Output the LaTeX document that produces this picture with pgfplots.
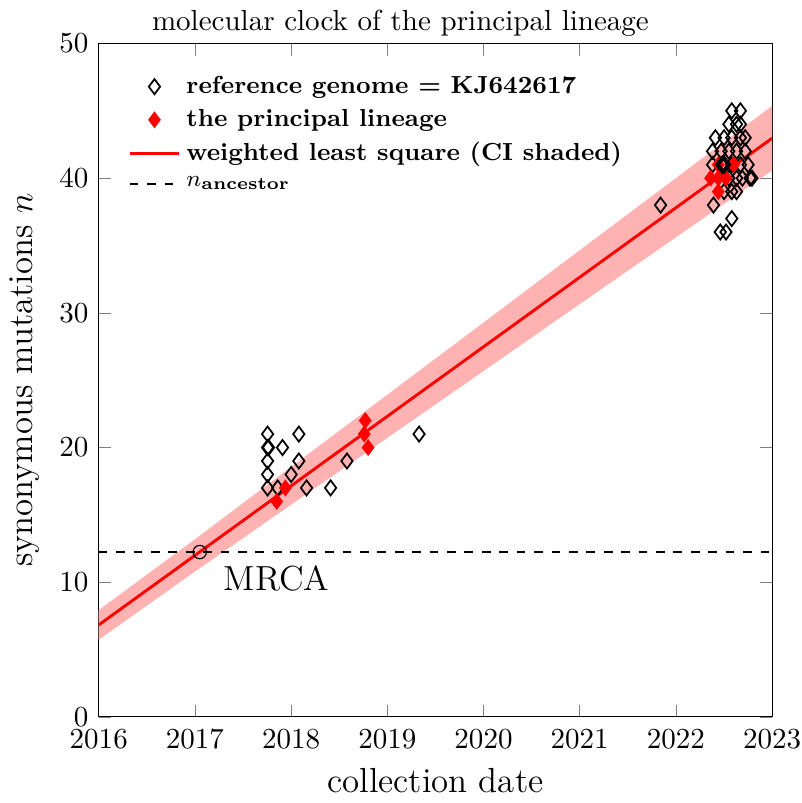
\documentclass[border=0pt]{standalone}
\usepackage{amsmath}
\usepackage{pgfplots}
\pgfplotsset{compat=1.18}
\begin{document}
\begin{tikzpicture}
\begin{axis}[
  width=232pt, height=232pt, scale only axis,
  xmin=2016, xmax=2023, ymin=0, ymax=50,
  xtick={2016,2017,...,2023},
  ytick={0,10,...,50},
  x tick label style={/pgf/number format/1000 sep={}, inner xsep=0pt, inner ysep=0pt, yshift=-4.4pt},
  y tick label style={inner ysep=0pt},
  tick style={gray},
  title={molecular clock of the principal lineage},
  title style={at={(0.448,1)}, yshift=-7pt},
  xlabel={collection date},
  xlabel style={font=\large, yshift=-3.3pt},
  ylabel={synonymous mutations $n$},
  ylabel style={font=\large},
  legend style={draw=none, fill=none, at={(0.03,0.97)}, anchor=north west, font=\fontsize{8.5}{10}\selectfont\bfseries},
  legend cell align=left,
]
% CI band
\addplot[draw=none, fill=red!30, forget plot] coordinates {
(2016,7.93) (2017,13.19) (2018,18.56) (2019,23.92) (2020,29.28) (2021,34.65) (2022,40.01) (2023,45.37)
(2023,40.57) (2022,35.61) (2021,30.65) (2020,25.68) (2019,20.72) (2018,15.76) (2017,10.79) (2016,5.73)
} -- cycle;
% reference genome
\addplot[only marks, mark=diamond, mark size=2.6pt, black, line width=0.6pt] coordinates {
(2017.755,17) (2017.755,18) (2017.755,19) (2017.755,20) (2017.755,21) (2017.765,20)
(2017.86,17) (2017.91,20) (2018.00,18) (2018.08,19) (2018.08,21) (2018.16,17)
(2018.41,17) (2018.58,19) (2019.33,21) (2021.84,38)
(2022.58,45) (2022.67,45)
(2022.55,44) (2022.63,44) (2022.67,44)
(2022.41,43) (2022.50,43) (2022.58,43) (2022.67,43) (2022.72,43)
(2022.38,42) (2022.47,42) (2022.55,42) (2022.63,42) (2022.72,42)
(2022.38,41) (2022.50,41) (2022.58,41) (2022.67,41) (2022.75,41)
(2022.55,40) (2022.63,40) (2022.69,40) (2022.77,40) (2022.79,40)
(2022.50,39) (2022.58,39) (2022.63,39)
(2022.39,38) (2022.58,37) (2022.46,36) (2022.52,36)
};
\addlegendentry{reference genome = KJ642617}
% principal lineage
\addplot[only marks, mark=diamond*, mark size=2.6pt, red, fill=red] coordinates {
(2017.85,16) (2017.94,17) (2018.77,22) (2018.76,21) (2018.80,20)
(2022.36,40) (2022.44,41) (2022.44,39) (2022.52,40) (2022.44,40) (2022.60,41)
};
\addlegendentry{the principal lineage}
\addplot[only marks, mark=diamond, mark size=2.6pt, black, line width=0.9pt, forget plot] coordinates {
(2022.48,41) (2022.50,41)
};
% fit
\addplot[red, line width=1pt] coordinates {(2016,6.83) (2023,42.97)};
\addlegendentry{weighted least square (CI shaded)}
% ancestor
\addplot[black, dashed, line width=0.8pt] coordinates {(2016,12.24) (2023,12.24)};
\addlegendentry{$n_{\text{ancestor}}$}
% MRCA
\addplot[only marks, mark=o, mark size=2.3pt, black, forget plot] coordinates {(2017.05,12.24)};
\node[font=\large] at (axis cs:2017.85,10.3) {MRCA};
\end{axis}
\end{tikzpicture}
\end{document}
